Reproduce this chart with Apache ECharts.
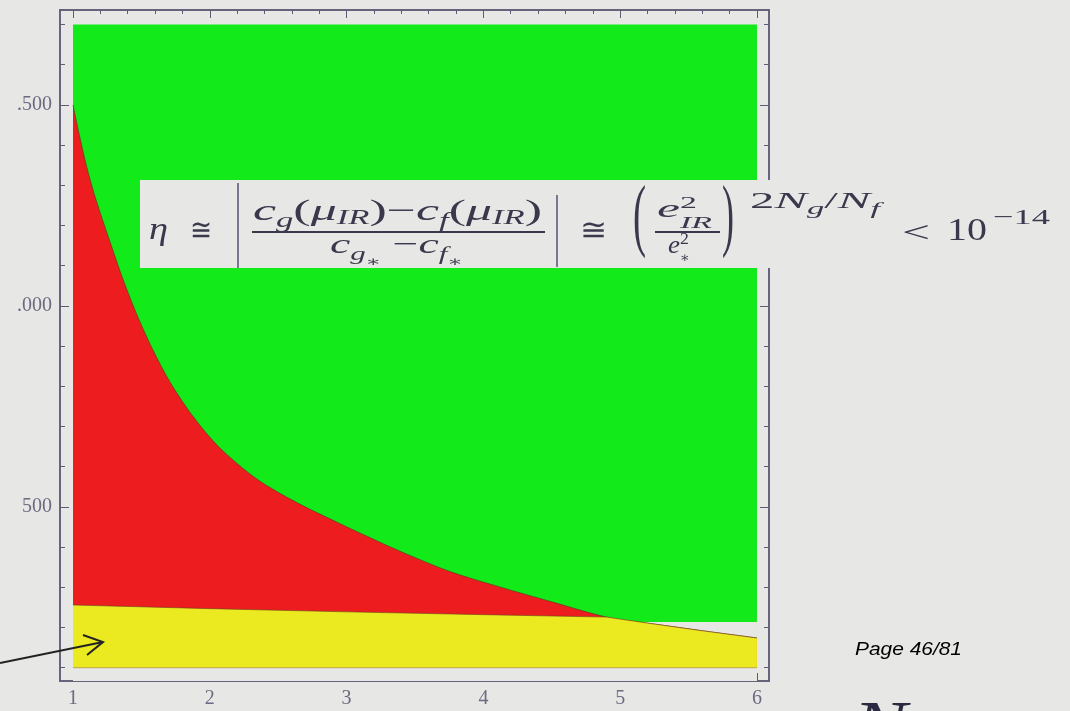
<!DOCTYPE html>
<html lang="en">
<head>
    <meta charset="UTF-8">
    <title>Region plot</title>
    <script src="https://cdn.jsdelivr.net/npm/echarts@6.0.0/dist/echarts.min.js"></script>
    <style>
        body, html { margin: 0; padding: 0; width: 100%; height: 100%; overflow: hidden; background: #e7e8e5; }
        #container { width: 1070px; height: 711px; }
    </style>
</head>
<body>
    <div id="container"></div>
    <script>
        // region edges
        var regionX = [1, 6];
        var greenTop = [1700, 1700];   // top of the green zone
        var gapTop = [214, 214];       // bottom of green where the white gap opens
        var baseTop = [100, 100];      // bottom of the yellow band

        // red / green boundary
        var curveX = [1.00, 1.05, 1.10, 1.17, 1.27, 1.37, 1.475, 1.585, 1.71, 1.88, 2.07, 2.35, 2.63, 2.93, 3.22, 3.39, 3.75, 4.12, 4.50, 4.90, 5.20, 5.60, 6.00];
        var curveY = [1500, 1420, 1346, 1262, 1160, 1062, 972, 890, 810, 724, 648, 568, 512, 462, 416, 390, 340, 301, 264, 226, 211, 192, 174];

        // top of the yellow band
        var yellowX = [1, 2, 3, 4, 4.9, 5.2, 5.6, 6];
        var yellowY = [256, 247, 239, 232, 226, 211, 192, 174];

        var xTickValues = [1, 2, 3, 4, 5, 6];
        var xTickLabels = ['1', '2', '3', '4', '5', '6'];
        var yTickValues = [500, 1000, 1500];
        var yTickLabels = ['500', '.000', '.500'];   // leading digit is hidden on the slide

        var bg = '#e7e8e5';
        var frame = '#5e5c74';
        var labelColor = '#6c6a82';
        var serif = "'Liberation Serif', 'DejaVu Serif', serif";
        var inkColor = '#3a384c';

        var xMin = 0.905, xMax = 6.088, yMin = 67, yMax = 1736;

        var xMinor = [], yMinor = [];
        for (var i = 1; i < 6; i++) for (var k = 1; k < 5; k++) xMinor.push(+(i + k * 0.2).toFixed(2));
        for (var v = 100; v <= 1700; v += 100) if (v % 500) yMinor.push(v);

        function pts(xs, ys) { return xs.map(function (x, i) { return [x, ys[i]]; }); }

        function area(name, data, color, z, line, smooth) {
            return {
                name: name, type: 'line', data: data, z: z,
                symbol: 'none', animation: false,
                smooth: smooth || false,
                lineStyle: line ? { width: 1, color: line } : { width: 0 },
                areaStyle: { color: color, opacity: 1, origin: 'start' }
            };
        }

        function xAx(pos, values, len, labels) {
            return {
                type: 'value', position: pos, min: xMin, max: xMax,
                axisLine: { show: true, onZero: false, lineStyle: { color: frame, width: 1.5 } },
                axisTick: { show: true, inside: true, length: len, customValues: values, lineStyle: { color: frame, width: 1 } },
                axisLabel: labels ? {
                    customValues: values, color: labelColor, fontFamily: serif, fontSize: 20, margin: 8,
                    formatter: function (val) { return xTickLabels[xTickValues.indexOf(val)]; }
                } : { show: false },
                splitLine: { show: false }
            };
        }

        function yAx(pos, values, len, labels) {
            return {
                type: 'value', position: pos, min: yMin, max: yMax,
                axisLine: { show: true, onZero: false, lineStyle: { color: frame, width: 1.5 } },
                axisTick: { show: true, inside: true, length: len, customValues: values, lineStyle: { color: frame, width: 1 } },
                axisLabel: labels ? {
                    customValues: values, color: labelColor, fontFamily: serif, fontSize: 20, margin: 8,
                    formatter: function (val) { return yTickLabels[yTickValues.indexOf(val)]; }
                } : { show: false },
                splitLine: { show: false }
            };
        }

        // lay out a row of math pieces, stretched to the width seen on the slide
        var ctx = document.createElement('canvas').getContext('2d');
        function run(pieces, x0, x1, base, fam, color) {
            var cx = 0, prevX = 0, kids = [];
            pieces.forEach(function (p) {
                var t = p[0], s = p[1], dy = p[2], it = p[3], stack = p[4];
                var f = (it ? 'italic ' : '') + s + 'px ' + fam;
                ctx.font = f;
                var w = ctx.measureText(t).width;
                var px;
                if (stack) { px = prevX; cx = Math.max(cx, px + w); } else { px = cx; cx += w; }
                prevX = px;
                kids.push({
                    type: 'text', x: px, y: dy - 0.34 * s, z: 60,
                    style: { text: t, font: f, fill: color, textAlign: 'left', verticalAlign: 'middle', textVerticalAlign: 'middle' }
                });
            });
            return { type: 'group', x: x0, y: base, scaleX: (x1 - x0) / cx, z: 60, children: kids };
        }

        function bar(x1, y1, x2, y2, color, w) {
            return { type: 'line', z: 60, shape: { x1: x1, y1: y1, x2: x2, y2: y2 }, style: { stroke: color, lineWidth: w } };
        }

        var graphics = [
            { type: 'rect', z: 50, shape: { x: 140, y: 180, width: 640, height: 88 }, style: { fill: bg } },
            run([['η', 32, 0, 1]], 149, 168, 241, serif, inkColor),
            run([['≅', 30, 0, 0]], 190, 212, 242, serif, inkColor),
            bar(238, 183, 238, 268, '#7d7492', 2),
            run([['c', 30, 0, 1], ['g', 20, 7, 1], ['(', 30, 0, 0], ['μ', 30, 0, 1], ['IR', 20, 4, 1], [')', 30, 0, 0],
                 ['−', 30, 0, 0], ['c', 30, 0, 1], ['f', 20, 7, 1], ['(', 30, 0, 0], ['μ', 30, 0, 1], ['IR', 20, 4, 1], [')', 30, 0, 0]],
                253, 542, 222, serif, inkColor),
            bar(252, 232, 545, 232, inkColor, 2),
            run([['c', 28, 0, 1], ['g', 19, 6, 1], ['∗', 14, 12, 0], [' −', 28, 0, 0], ['c', 28, 0, 1], ['f', 19, 6, 1], ['∗', 14, 12, 0]],
                330, 463, 255, serif, inkColor),
            bar(557, 195, 557, 267, '#7d7492', 2),
            run([['≅', 30, 0, 0]], 580, 607, 242, serif, inkColor),
            run([['(', 80, 0, 0]], 633, 646, 247, serif, inkColor),
            run([['e', 26, 0, 1], ['2', 17, -10, 0], ['IR', 17, 10, 1, 1]], 657, 712, 219, serif, inkColor),
            bar(655, 232, 720, 232, inkColor, 2),
            run([['e', 26, 0, 1], ['2', 17, -10, 0], ['∗', 14, 8, 0, 1]], 668, 690, 255, serif, inkColor),
            run([[')', 80, 0, 0]], 722, 734, 247, serif, inkColor),
            run([['2', 24, 0, 0], ['N', 24, 0, 1], ['g', 17, 5, 1], ['/', 24, 0, 0], ['N', 24, 0, 1], ['f', 17, 5, 1]],
                750, 880, 210, serif, inkColor),
            run([['<', 30, 0, 0]], 902, 930, 244, serif, inkColor),
            run([['10', 32, 0, 0]], 947, 987, 242, serif, inkColor),
            run([['−14', 22, 0, 0]], 993, 1050, 226, serif, inkColor),
            run([['Page 46/81', 18, 0, 1]], 855, 962, 656, "'Liberation Sans', Arial, sans-serif", '#000000'),
            run([['N', 70, 0, 1]], 853, 907, 754, serif, '#2a2a40'),
            // arrow pointing into the yellow band
            { type: 'polyline', z: 60, shape: { points: [[0, 663], [103, 642]] }, style: { stroke: '#222', lineWidth: 2, fill: null } },
            { type: 'polyline', z: 60, shape: { points: [[83, 635], [103, 642], [87, 655]] }, style: { stroke: '#222', lineWidth: 2, fill: null } }
        ];

        var option = {
            backgroundColor: bg,
            animation: false,
            grid: { left: 60, right: 301, top: 10, bottom: 30, show: true, backgroundColor: bg, borderWidth: 0 },
            xAxis: [
                xAx('bottom', xTickValues, 8, true),
                xAx('bottom', xMinor, 4, false),
                xAx('top', xTickValues, 8, false),
                xAx('top', xMinor, 4, false)
            ],
            yAxis: [
                yAx('left', yTickValues, 9, true),
                yAx('left', yMinor, 5, false),
                yAx('right', yTickValues, 9, false),
                yAx('right', yMinor, 5, false)
            ],
            series: [
                area('green', pts(regionX, greenTop), '#12ea1a', 2),
                area('gap', pts(regionX, gapTop), bg, 3),
                area('red', pts(curveX, curveY), '#ec1c1f', 4, 'rgba(90,50,30,0.6)', 0.3),
                area('yellow', pts(yellowX, yellowY), '#ebe91f', 5, 'rgba(110,70,30,0.6)'),
                area('base', pts(regionX, baseTop), bg, 6, 'rgba(160,120,50,0.6)')
            ],
            graphic: graphics
        };

        var chart = echarts.init(document.getElementById('container'));
        chart.setOption(option);
    </script>
</body>
</html>
